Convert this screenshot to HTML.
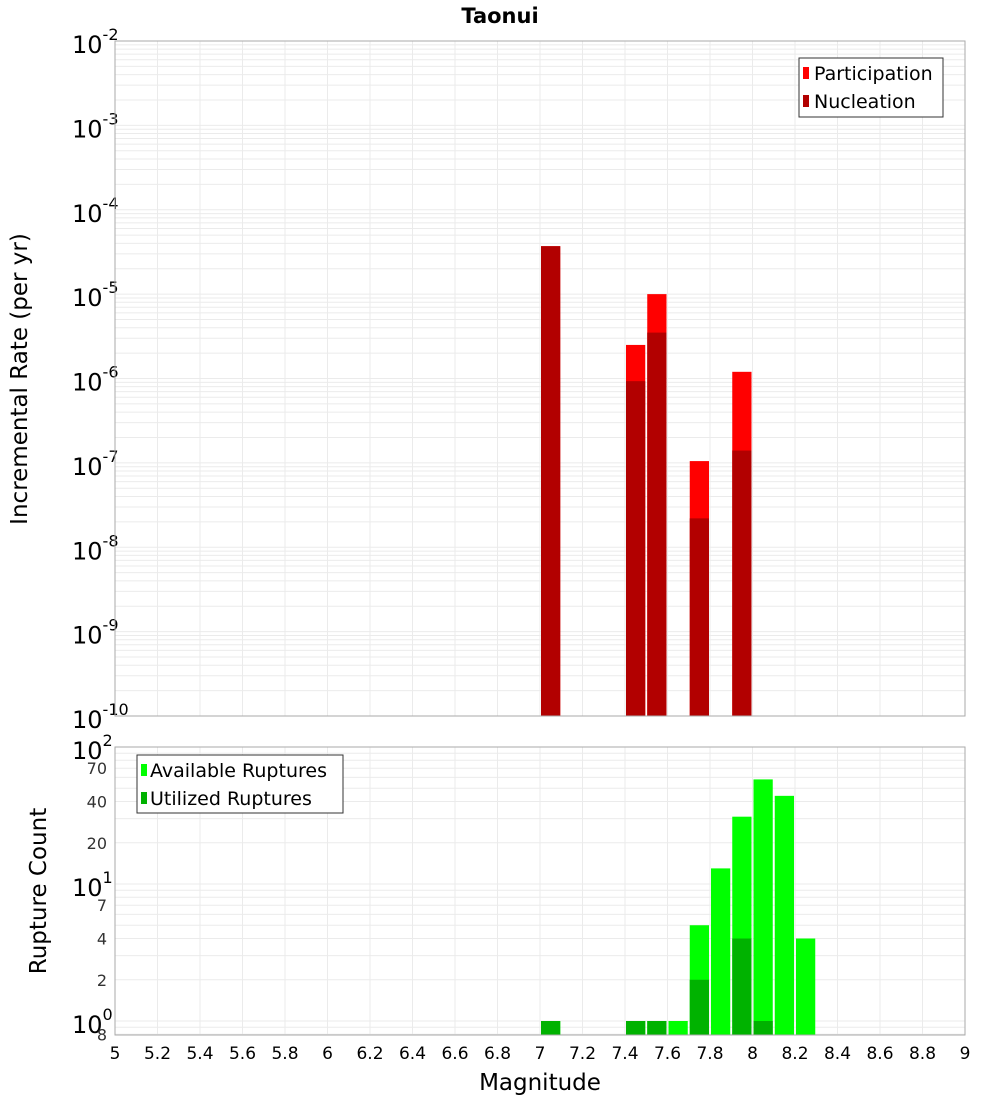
<!DOCTYPE html>
<html><head><meta charset="utf-8"><style>
body{margin:0;background:#fff;}
svg text{font-family:"DejaVu Sans","Liberation Sans",sans-serif;}
</style></head><body>
<svg id="c" width="1000" height="1100" xmlns="http://www.w3.org/2000/svg">
<text x="500" y="23" text-anchor="middle" font-size="21" font-weight="bold">Taonui</text>
<g id="gtop"></g><g id="gbot"></g>
</svg>
<script>
const xTicks=[5,5.2,5.4,5.6,5.8,6,6.2,6.4,6.6,6.8,7,7.2,7.4,7.6,7.8,8,8.2,8.4,8.6,8.8,9];
const xTickLabels=["5","5.2","5.4","5.6","5.8","6","6.2","6.4","6.6","6.8","7","7.2","7.4","7.6","7.8","8","8.2","8.4","8.6","8.8","9"];
const rateMags=[7.05,7.45,7.55,7.75,7.95];
const participation=[3.7e-5,2.5e-6,1.0e-5,1.05e-7,1.2e-6];
const nucleation=[3.7e-5,9.3e-7,3.5e-6,2.2e-8,1.4e-7];
const countMags=[7.05,7.45,7.55,7.65,7.75,7.85,7.95,8.05,8.15,8.25];
const available=[1,1,1,1,5,13,31,58,44,4];
const utilized=[1,1,1,0,2,0,4,1,0,0];

const NS="http://www.w3.org/2000/svg";
function mk(tag,attrs,parent,text){const e=document.createElementNS(NS,tag);for(const k in attrs)e.setAttribute(k,attrs[k]);if(text!==undefined)e.textContent=text;parent.appendChild(e);return e;}
const L=115,R=965;
const xs=m=>L+(m-5)/4*(R-L);
const T0=41,T1=716;
const yTop=v=>T0+(-2-Math.log10(v))/8*(T1-T0);
const B0=747,B1=1035;
const yBot=v=>1021-Math.log10(v)*137;

const gTop=document.getElementById('gtop'),gBot=document.getElementById('gbot');
for(let d=-10;d<-2;d++)for(let k=1;k<10;k++){const y=yTop(k*Math.pow(10,d));
 const g=mk('line',{x1:L,x2:R,y1:y,y2:y,stroke:'#ebebeb','stroke-width':1},gTop);
 
 }
for(const t of xTicks){const g=mk('line',{x1:xs(t),x2:xs(t),y1:T0,y2:T1,stroke:'#ebebeb'},gTop);
 
 }
for(let d=-10;d<=-2;d++){const y=yTop(Math.pow(10,d));
 const t=mk('text',{x:72,y:y+12,'font-size':24},gTop);
 
 
 mk('tspan',{},t,'10');mk('tspan',{dy:-13,'font-size':16},t,String(d));}
const bw=(xs(5.1)-xs(5))-2;
rateMags.forEach((m,i)=>{
 const x=xs(m)-bw/2;
 const p=mk('rect',{x:x,y:yTop(participation[i]),width:bw,height:T1-yTop(participation[i]),fill:'#ff0000'},gTop);
 
 
 const n=mk('rect',{x:x,y:yTop(nucleation[i]),width:bw,height:T1-yTop(nucleation[i]),fill:'#b20000'},gTop);
 
 
});
mk('rect',{x:L,y:T0,width:R-L,height:T1-T0,fill:'none',stroke:'#aaa'},gTop);
for(let d=-1;d<2;d++)for(let k=1;k<10;k++){const v=k*Math.pow(10,d);const y=yBot(v);if(y>B1||y<B0)continue;
 const g=mk('line',{x1:L,x2:R,y1:y,y2:y,stroke:'#ebebeb'},gBot);
 
 }
for(const t of xTicks){const g=mk('line',{x1:xs(t),x2:xs(t),y1:B0,y2:B1,stroke:'#ebebeb'},gBot);
 
 }
countMags.forEach((m,i)=>{
 const x=xs(m)-bw/2;
 const a=mk('rect',{x:x,y:yBot(available[i]),width:bw,height:B1-yBot(available[i]),fill:'#00ff00'},gBot);
 
 
 if(utilized[i]>0){const u=mk('rect',{x:x,y:yBot(utilized[i]),width:bw,height:B1-yBot(utilized[i]),fill:'#00b200'},gBot);
 
 }
});
mk('rect',{x:L,y:B0,width:R-L,height:B1-B0,fill:'none',stroke:'#aaa'},gBot);
[0,1,2].forEach(d=>{const y=yBot(Math.pow(10,d));
 const t=mk('text',{x:72,y:y+12,'font-size':24},gBot);
 
 
 mk('tspan',{},t,'10');mk('tspan',{dy:-13,'font-size':16},t,String(d));});
[70,40,20,7,4,2,0.8].forEach(v=>{const t=mk('text',{x:107,y:yBot(v)+6,'font-size':16,'text-anchor':'end',fill:'#333'},gBot,v===0.8?'8':String(v));
 
 });
xTicks.forEach((t,i)=>{const e=mk('text',{x:xs(t),y:1059,'font-size':17,'text-anchor':'middle'},gBot,xTickLabels[i]);
 
 });
</script>
<svg width="1000" height="1100" style="position:absolute;left:0;top:0" xmlns="http://www.w3.org/2000/svg">
<text transform="translate(27,379) rotate(-90)" text-anchor="middle" font-size="23" font-family="DejaVu Sans,sans-serif">Incremental Rate (per yr)</text>
<text transform="translate(46,891) rotate(-90)" text-anchor="middle" font-size="23" font-family="DejaVu Sans,sans-serif">Rupture Count</text>
<text x="540" y="1090" text-anchor="middle" font-size="23" font-family="DejaVu Sans,sans-serif">Magnitude</text>
<g font-family="DejaVu Sans,sans-serif" font-size="19">
<rect x="799" y="58" width="144" height="59" fill="#fff" stroke="#333"/>
<rect x="803" y="67" width="6" height="12" fill="#ff0000"/><text x="814" y="80">Participation</text>
<rect x="803" y="95" width="6" height="12" fill="#b20000"/><text x="814" y="108">Nucleation</text>
</g>
<g font-family="DejaVu Sans,sans-serif" font-size="19">
<rect x="137" y="755" width="206" height="58" fill="#fff" stroke="#333"/>
<rect x="141" y="764" width="6" height="12" fill="#00ff00"/><text x="150" y="777">Available Ruptures</text>
<rect x="141" y="792" width="6" height="12" fill="#00b200"/><text x="150" y="805">Utilized Ruptures</text>
</g>
</svg>
</body></html>
